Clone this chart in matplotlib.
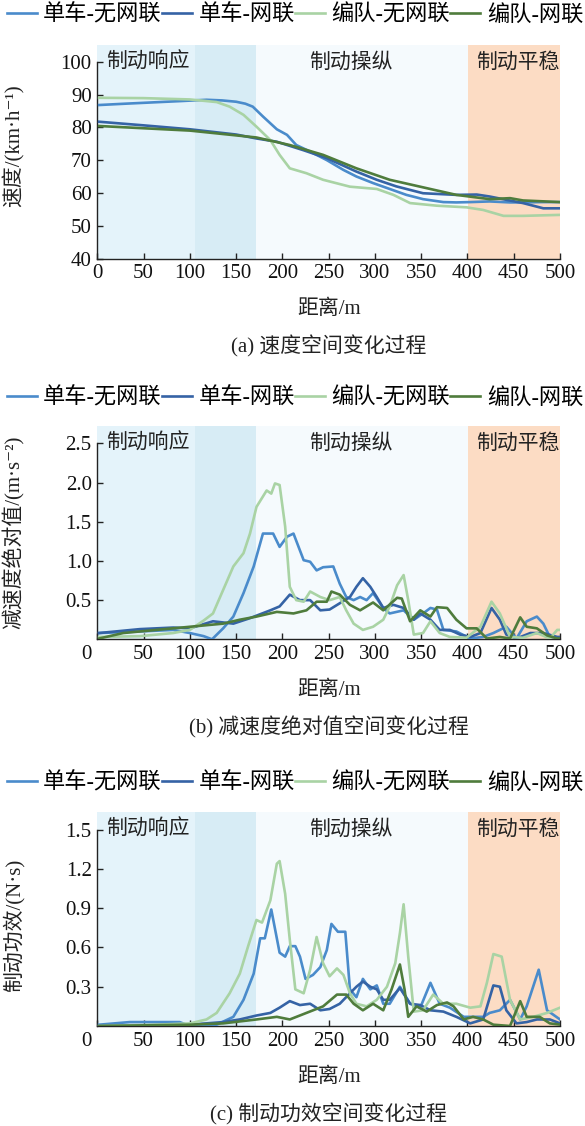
import matplotlib
matplotlib.use('Agg')
import matplotlib.pyplot as plt
from matplotlib.transforms import ScaledTranslation, blended_transform_factory

plt.rcParams['font.family'] = ['Liberation Serif', 'Noto Sans CJK SC', 'DejaVu Sans']
plt.rcParams['font.size'] = 15

# ---------------- data ----------------
series_names = ['单车-无网联', '单车-网联', '编队-无网联', '编队-网联']
series_colors = ['#4a8bcb', '#3563a5', '#a9d3a4', '#4f7c3c']

phase_names = ['制动响应', '制动操纵', '制动平稳']
phase_label_x = [10, 274, 500]
phase_bounds = [0, 106, 171, 401, 500]
phase_colors = ['#e4f3fa', '#d7ecf5', '#f5fafd', '#fcdcc4']

x_ticks = [0, 50, 100, 150, 200, 250, 300, 350, 400, 450, 500]

# (a) speed km/h
a_x_sc_wu = [2, 30, 60, 90, 111, 118, 135, 150, 160, 168, 179, 194, 205, 215, 230, 248, 266, 280, 298, 316, 334, 352, 374, 388, 403, 424, 446, 460, 480, 500]
a_y_sc_wu = [86.8, 87.2, 87.6, 88.0, 88.3, 88.4, 88.2, 87.8, 87.2, 86.3, 83.3, 79.4, 77.7, 74.6, 72.6, 70.0, 67.0, 65.0, 63.0, 61.2, 59.4, 58.1, 57.2, 57.1, 57.2, 57.4, 57.1, 57.1, 57.2, 57.2]
a_x_sc_wl = [2, 50, 100, 150, 172, 194, 223, 248, 280, 302, 323, 352, 388, 410, 424, 440, 460, 482, 500]
a_y_sc_wl = [81.7, 80.6, 79.4, 77.8, 76.6, 75.6, 73.0, 70.6, 66.5, 64.0, 62.0, 59.9, 59.4, 59.5, 58.9, 58.0, 56.9, 55.3, 55.3]
a_x_bd_wu = [2, 50, 100, 129, 143, 158, 172, 187, 197, 208, 226, 244, 273, 302, 320, 338, 367, 399, 417, 439, 460, 500]
a_y_bd_wu = [89.0, 88.9, 88.5, 87.7, 86.3, 83.8, 80.2, 76.1, 71.6, 67.5, 66.0, 64.0, 61.9, 61.2, 59.4, 56.9, 56.1, 55.6, 54.8, 53.0, 53.0, 53.3]
a_x_bd_wl = [2, 100, 172, 208, 244, 280, 316, 352, 388, 424, 446, 460, 500]
a_y_bd_wl = [80.4, 79.0, 76.9, 74.6, 71.6, 67.5, 64.0, 61.7, 59.4, 58.1, 58.4, 57.7, 57.2]

# (b) |deceleration| m/s^2
b_x_sc_wu = [2, 46, 82, 100, 115, 124, 136, 147, 158, 169, 179, 190, 197, 205, 212, 223, 230, 237, 244, 255, 262, 269, 277, 284, 291, 298, 309, 316, 331, 342, 352, 360, 367, 374, 388, 403, 417, 428, 435, 442, 453, 464, 475, 482, 489, 500]
b_y_sc_wu = [0.08, 0.10, 0.12, 0.08, 0.04, 0.00, 0.14, 0.29, 0.59, 0.93, 1.35, 1.35, 1.18, 1.31, 1.35, 1.01, 0.99, 0.88, 0.92, 0.93, 0.71, 0.54, 0.50, 0.54, 0.50, 0.59, 0.40, 0.33, 0.37, 0.25, 0.33, 0.40, 0.38, 0.12, 0.10, 0.01, 0.03, 0.08, 0.12, 0.16, 0.01, 0.23, 0.29, 0.20, 0.03, 0.02]
b_x_sc_wl = [2, 46, 82, 100, 125, 147, 165, 187, 197, 208, 219, 230, 241, 251, 262, 273, 280, 287, 295, 302, 309, 320, 331, 342, 349, 360, 370, 381, 392, 403, 414, 426, 435, 442, 453, 468, 482, 497, 500]
b_y_sc_wl = [0.08, 0.13, 0.15, 0.14, 0.23, 0.20, 0.27, 0.37, 0.42, 0.57, 0.50, 0.50, 0.37, 0.38, 0.46, 0.54, 0.67, 0.78, 0.67, 0.54, 0.40, 0.44, 0.40, 0.25, 0.33, 0.25, 0.12, 0.12, 0.06, 0.03, 0.08, 0.40, 0.25, 0.06, 0.01, 0.08, 0.08, 0.03, 0.03]
b_x_bd_wu = [2, 46, 82, 100, 115, 125, 136, 147, 158, 165, 172, 183, 188, 192, 197, 203, 208, 215, 223, 230, 241, 251, 262, 269, 277, 287, 298, 309, 316, 324, 331, 336, 342, 352, 360, 370, 381, 399, 414, 426, 435, 446, 460, 475, 489, 497, 500]
b_y_bd_wu = [0.03, 0.04, 0.08, 0.12, 0.24, 0.33, 0.63, 0.93, 1.10, 1.35, 1.69, 1.90, 1.86, 1.99, 1.97, 1.44, 0.67, 0.50, 0.48, 0.61, 0.54, 0.50, 0.54, 0.37, 0.20, 0.12, 0.16, 0.25, 0.42, 0.69, 0.82, 0.50, 0.06, 0.08, 0.23, 0.08, 0.03, 0.02, 0.16, 0.48, 0.33, 0.03, 0.02, 0.08, 0.01, 0.12, 0.12]
b_x_bd_wl = [2, 28, 64, 100, 136, 154, 172, 194, 212, 226, 237, 248, 253, 262, 273, 284, 298, 309, 324, 329, 338, 349, 360, 367, 378, 388, 399, 410, 421, 435, 446, 457, 464, 475, 486, 497, 500]
b_y_bd_wl = [0.01, 0.08, 0.12, 0.16, 0.20, 0.25, 0.29, 0.35, 0.33, 0.37, 0.48, 0.48, 0.61, 0.57, 0.44, 0.37, 0.47, 0.37, 0.53, 0.52, 0.23, 0.37, 0.29, 0.41, 0.40, 0.25, 0.14, 0.14, 0.01, 0.03, 0.01, 0.28, 0.16, 0.14, 0.05, 0.01, 0.01]

# (c) braking efficiency N*s
c_x_sc_wu = [2, 35, 57, 89, 100, 129, 147, 158, 169, 176, 181, 188, 197, 203, 208, 214, 219, 225, 233, 241, 248, 253, 260, 268, 273, 280, 287, 295, 302, 309, 316, 327, 338, 349, 360, 370, 381, 396, 406, 417, 424, 435, 446, 457, 464, 477, 486, 500]
c_y_sc_wu = [0.01, 0.03, 0.03, 0.03, 0.00, 0.01, 0.07, 0.20, 0.40, 0.67, 0.67, 0.89, 0.56, 0.53, 0.61, 0.61, 0.53, 0.36, 0.39, 0.45, 0.58, 0.78, 0.72, 0.72, 0.28, 0.22, 0.36, 0.28, 0.31, 0.17, 0.17, 0.30, 0.17, 0.14, 0.33, 0.17, 0.14, 0.07, 0.07, 0.07, 0.10, 0.12, 0.20, 0.05, 0.15, 0.43, 0.12, 0.05]
c_x_sc_wl = [2, 100, 136, 154, 172, 187, 197, 208, 219, 230, 241, 251, 262, 273, 280, 287, 295, 302, 309, 316, 327, 338, 349, 360, 374, 388, 403, 417, 428, 435, 442, 453, 464, 475, 489, 500]
c_y_sc_wl = [0.00, 0.01, 0.03, 0.05, 0.08, 0.10, 0.14, 0.19, 0.16, 0.17, 0.12, 0.13, 0.17, 0.25, 0.30, 0.34, 0.30, 0.28, 0.20, 0.20, 0.29, 0.17, 0.16, 0.12, 0.11, 0.07, 0.02, 0.05, 0.31, 0.30, 0.12, 0.02, 0.03, 0.05, 0.05, 0.02]
c_x_bd_wu = [2, 64, 100, 118, 129, 143, 154, 163, 172, 178, 187, 194, 197, 203, 208, 214, 223, 230, 237, 244, 251, 259, 266, 273, 280, 291, 302, 313, 322, 327, 331, 336, 342, 352, 363, 374, 388, 403, 414, 421, 428, 437, 446, 457, 471, 486, 500]
c_y_bd_wu = [0.00, 0.01, 0.02, 0.05, 0.10, 0.25, 0.40, 0.61, 0.81, 0.79, 0.96, 1.24, 1.26, 1.01, 0.66, 0.28, 0.25, 0.43, 0.68, 0.48, 0.38, 0.44, 0.39, 0.25, 0.17, 0.15, 0.20, 0.30, 0.48, 0.71, 0.93, 0.53, 0.11, 0.12, 0.24, 0.17, 0.17, 0.14, 0.15, 0.33, 0.55, 0.53, 0.20, 0.05, 0.07, 0.10, 0.14]
c_x_bd_wl = [2, 100, 136, 172, 194, 208, 226, 244, 259, 269, 277, 287, 298, 309, 318, 327, 332, 336, 345, 356, 367, 378, 385, 396, 406, 417, 428, 446, 457, 464, 478, 489, 500]
c_y_bd_wl = [0.00, 0.01, 0.02, 0.05, 0.07, 0.05, 0.10, 0.15, 0.24, 0.24, 0.17, 0.12, 0.17, 0.12, 0.28, 0.47, 0.28, 0.07, 0.15, 0.11, 0.16, 0.18, 0.15, 0.05, 0.07, 0.05, 0.01, 0.00, 0.19, 0.07, 0.07, 0.02, 0.01]

a_yticks = [40, 50, 60, 70, 80, 90, 100]
b_yticks = [0.5, 1.0, 1.5, 2.0, 2.5]
c_yticks = [0.3, 0.6, 0.9, 1.2, 1.5]

# ---------------- figure ----------------
W, H = 585, 1126
fig = plt.figure(figsize=(W / 100, H / 100), dpi=100)

panels = [
    dict(top=45, bottom=258.5, leg=15, ylim=(40, 105.1), bounds=(40, 100), yticks=a_yticks, fmt='{:.0f}',
         ylabel='速度/(km·h⁻¹)', ylab_y=0.53, caption='(a) 速度空间变化过程', zero_shift=0,
         data=[(a_x_sc_wu, a_y_sc_wu), (a_x_sc_wl, a_y_sc_wl), (a_x_bd_wu, a_y_bd_wu), (a_x_bd_wl, a_y_bd_wl)]),
    dict(top=425.7, bottom=639.3, leg=398, ylim=(0, 2.727), bounds=(0, 2.5), yticks=b_yticks, fmt='{:.1f}',
         ylabel='减速度绝对值/(m·s⁻²)', ylab_y=0.5, caption='(b) 减速度绝对值空间变化过程', zero_shift=-11,
         data=[(b_x_sc_wu, b_y_sc_wu), (b_x_sc_wl, b_y_sc_wl), (b_x_bd_wu, b_y_bd_wu), (b_x_bd_wl, b_y_bd_wl)]),
    dict(top=812, bottom=1026, leg=783, ylim=(0, 1.635), bounds=(0, 1.5), yticks=c_yticks, fmt='{:.1f}',
         ylabel='制动功效/(N·s)', ylab_y=0.47, caption='(c) 制动功效空间变化过程', zero_shift=-11,
         data=[(c_x_sc_wu, c_y_sc_wu), (c_x_sc_wl, c_y_sc_wl), (c_x_bd_wu, c_y_bd_wu), (c_x_bd_wl, c_y_bd_wl)]),
]

left_px, right_px = 97.3, 560
for p in panels:
    ax = fig.add_axes([left_px / W, 1 - p['bottom'] / H, (right_px - left_px) / W, (p['bottom'] - p['top']) / H])
    ax.set_xlim(0, 500)
    ax.set_ylim(*p['ylim'])
    for i in range(4):
        ax.axvspan(phase_bounds[i], phase_bounds[i + 1], color=phase_colors[i], lw=0, zorder=0)
    handles = []
    for (xs, ys), name, col in zip(p['data'], series_names, series_colors):
        h, = ax.plot(xs, ys, color=col, lw=1.9, label=name, zorder=3)
        handles.append(h)
    for s in ['top', 'right']:
        ax.spines[s].set_visible(False)
    ax.spines['left'].set_bounds(*p['bounds'])
    for s in ['left', 'bottom']:
        ax.spines[s].set_linewidth(1.0)
        ax.spines[s].set_color('#222222')
    ax.set_xticks(x_ticks)
    ax.set_xticklabels([str(v) for v in x_ticks])
    ax.set_yticks(p['yticks'])
    ax.set_yticklabels([p['fmt'].format(v) for v in p['yticks']])
    ax.tick_params(direction='in', length=4, width=1.0, colors='#222222', labelsize=15, labelcolor='#111111')
    ax.tick_params(axis='x', pad=4)
    ax.tick_params(axis='y', pad=4)
    if p['zero_shift']:
        lab = ax.get_xticklabels()[0]
        lab.set_transform(lab.get_transform() + ScaledTranslation(p['zero_shift'] / 100, 0, fig.dpi_scale_trans))
    # phase labels
    tr = blended_transform_factory(ax.transData, ax.transAxes)
    ax.text(phase_label_x[0], 0.915, phase_names[0], transform=tr, ha='left', va='center', fontsize=15, color='#222222')
    ax.text(phase_label_x[1], 0.915, phase_names[1], transform=tr, ha='center', va='center', fontsize=15, color='#222222')
    ax.text(phase_label_x[2], 0.915, phase_names[2], transform=tr, ha='right', va='center', fontsize=15, color='#222222')
    # y label
    ax.set_ylabel(p['ylabel'], fontsize=15, color='#222222')
    ax.yaxis.set_label_coords((25 - left_px) / (right_px - left_px), p['ylab_y'])
    # legend
    fig.legend(handles, series_names, loc='center', bbox_to_anchor=(0.504, 1 - p['leg'] / H),
               ncol=4, frameon=False, fontsize=16, handlelength=1.35, handletextpad=0.3,
               columnspacing=0.0, borderaxespad=0, borderpad=0)
    # x label and caption
    cx = (left_px + right_px) / 2 / W
    fig.text(cx, 1 - (p['bottom'] + 51) / H, '距离/m', ha='center', va='center', fontsize=15, color='#222222')
    fig.text(cx, 1 - (p['bottom'] + 88) / H, p['caption'], ha='center', va='center', fontsize=15, color='#222222')

fig.savefig('out.png', dpi=100)
